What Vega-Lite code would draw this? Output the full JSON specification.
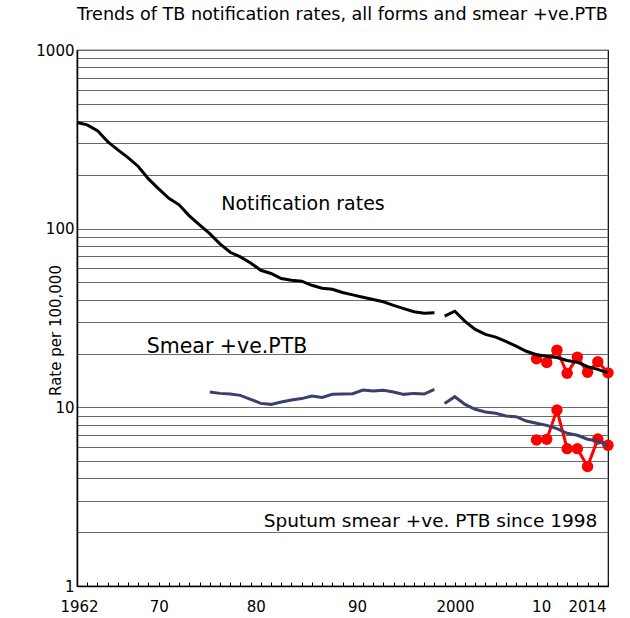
{
  "$schema": "https://vega.github.io/schema/vega-lite/v6.json",
  "width": 531,
  "height": 536,
  "autosize": {"type": "none"},
  "padding": {"left": 77, "top": 50, "right": 22, "bottom": 32},
  "background": "white",
  "config": {
    "font": "DejaVu Sans",
    "view": {"stroke": "#000", "strokeWidth": 1.2}
  },
  "title": {
    "text": "Trends of TB notification rates, all forms and smear +ve.PTB",
    "fontSize": 17.6,
    "fontWeight": "normal",
    "color": "#000",
    "anchor": "middle",
    "offset": 19
  },
  "datasets": {
    "series": [
      {"year": 1962, "value": 393, "series": "all_a"},
      {"year": 1963, "value": 381, "series": "all_a"},
      {"year": 1964, "value": 354, "series": "all_a"},
      {"year": 1965, "value": 307, "series": "all_a"},
      {"year": 1966, "value": 276, "series": "all_a"},
      {"year": 1967, "value": 250, "series": "all_a"},
      {"year": 1968, "value": 223, "series": "all_a"},
      {"year": 1969, "value": 190, "series": "all_a"},
      {"year": 1970, "value": 167, "series": "all_a"},
      {"year": 1971, "value": 148, "series": "all_a"},
      {"year": 1972, "value": 136, "series": "all_a"},
      {"year": 1973, "value": 118, "series": "all_a"},
      {"year": 1974, "value": 105, "series": "all_a"},
      {"year": 1975, "value": 93.8, "series": "all_a"},
      {"year": 1976, "value": 82.2, "series": "all_a"},
      {"year": 1977, "value": 73.8, "series": "all_a"},
      {"year": 1978, "value": 69.5, "series": "all_a"},
      {"year": 1979, "value": 64.3, "series": "all_a"},
      {"year": 1980, "value": 58.5, "series": "all_a"},
      {"year": 1981, "value": 56.1, "series": "all_a"},
      {"year": 1982, "value": 52.6, "series": "all_a"},
      {"year": 1983, "value": 51.4, "series": "all_a"},
      {"year": 1984, "value": 50.8, "series": "all_a"},
      {"year": 1985, "value": 48.2, "series": "all_a"},
      {"year": 1986, "value": 46.4, "series": "all_a"},
      {"year": 1987, "value": 45.8, "series": "all_a"},
      {"year": 1988, "value": 43.9, "series": "all_a"},
      {"year": 1989, "value": 42.6, "series": "all_a"},
      {"year": 1990, "value": 41.3, "series": "all_a"},
      {"year": 1991, "value": 40.1, "series": "all_a"},
      {"year": 1992, "value": 39.0, "series": "all_a"},
      {"year": 1993, "value": 37.2, "series": "all_a"},
      {"year": 1994, "value": 35.7, "series": "all_a"},
      {"year": 1995, "value": 34.3, "series": "all_a"},
      {"year": 1996, "value": 33.6, "series": "all_a"},
      {"year": 1997, "value": 33.8, "series": "all_a"},
      {"year": 1998, "value": 32.4, "series": "all_b"},
      {"year": 1999, "value": 34.5, "series": "all_b"},
      {"year": 2000, "value": 30.3, "series": "all_b"},
      {"year": 2001, "value": 27.3, "series": "all_b"},
      {"year": 2002, "value": 25.6, "series": "all_b"},
      {"year": 2003, "value": 24.7, "series": "all_b"},
      {"year": 2004, "value": 23.4, "series": "all_b"},
      {"year": 2005, "value": 22.0, "series": "all_b"},
      {"year": 2006, "value": 20.6, "series": "all_b"},
      {"year": 2007, "value": 19.7, "series": "all_b"},
      {"year": 2008, "value": 19.3, "series": "all_b"},
      {"year": 2009, "value": 19.0, "series": "all_b"},
      {"year": 2010, "value": 18.3, "series": "all_b"},
      {"year": 2011, "value": 17.9, "series": "all_b"},
      {"year": 2012, "value": 16.9, "series": "all_b"},
      {"year": 2013, "value": 16.3, "series": "all_b"},
      {"year": 2014, "value": 15.6, "series": "all_b"},
      {"year": 1975, "value": 12.18, "series": "smear_a"},
      {"year": 1976, "value": 11.97, "series": "smear_a"},
      {"year": 1977, "value": 11.86, "series": "smear_a"},
      {"year": 1978, "value": 11.67, "series": "smear_a"},
      {"year": 1979, "value": 11.09, "series": "smear_a"},
      {"year": 1980, "value": 10.52, "series": "smear_a"},
      {"year": 1981, "value": 10.39, "series": "smear_a"},
      {"year": 1982, "value": 10.71, "series": "smear_a"},
      {"year": 1983, "value": 10.99, "series": "smear_a"},
      {"year": 1984, "value": 11.19, "series": "smear_a"},
      {"year": 1985, "value": 11.57, "series": "smear_a"},
      {"year": 1986, "value": 11.37, "series": "smear_a"},
      {"year": 1987, "value": 11.82, "series": "smear_a"},
      {"year": 1988, "value": 11.86, "series": "smear_a"},
      {"year": 1989, "value": 11.93, "series": "smear_a"},
      {"year": 1990, "value": 12.49, "series": "smear_a"},
      {"year": 1991, "value": 12.33, "series": "smear_a"},
      {"year": 1992, "value": 12.45, "series": "smear_a"},
      {"year": 1993, "value": 12.18, "series": "smear_a"},
      {"year": 1994, "value": 11.82, "series": "smear_a"},
      {"year": 1995, "value": 11.97, "series": "smear_a"},
      {"year": 1996, "value": 11.86, "series": "smear_a"},
      {"year": 1997, "value": 12.61, "series": "smear_a"},
      {"year": 1998, "value": 10.5, "series": "smear_b"},
      {"year": 1999, "value": 11.47, "series": "smear_b"},
      {"year": 2000, "value": 10.39, "series": "smear_b"},
      {"year": 2001, "value": 9.75, "series": "smear_b"},
      {"year": 2002, "value": 9.41, "series": "smear_b"},
      {"year": 2003, "value": 9.26, "series": "smear_b"},
      {"year": 2004, "value": 8.94, "series": "smear_b"},
      {"year": 2005, "value": 8.87, "series": "smear_b"},
      {"year": 2006, "value": 8.38, "series": "smear_b"},
      {"year": 2007, "value": 8.14, "series": "smear_b"},
      {"year": 2008, "value": 7.93, "series": "smear_b"},
      {"year": 2009, "value": 7.6, "series": "smear_b"},
      {"year": 2010, "value": 7.16, "series": "smear_b"},
      {"year": 2011, "value": 6.98, "series": "smear_b"},
      {"year": 2012, "value": 6.63, "series": "smear_b"},
      {"year": 2013, "value": 6.48, "series": "smear_b"},
      {"year": 2014, "value": 6.08, "series": "smear_b"},
      {"year": 2007, "value": 18.7, "series": "all_red"},
      {"year": 2008, "value": 17.8, "series": "all_red"},
      {"year": 2009, "value": 20.9, "series": "all_red"},
      {"year": 2010, "value": 15.5, "series": "all_red"},
      {"year": 2011, "value": 19.1, "series": "all_red"},
      {"year": 2012, "value": 15.7, "series": "all_red"},
      {"year": 2013, "value": 18.0, "series": "all_red"},
      {"year": 2014, "value": 15.6, "series": "all_red"},
      {"year": 2007, "value": 6.57, "series": "smear_red"},
      {"year": 2008, "value": 6.62, "series": "smear_red"},
      {"year": 2009, "value": 9.66, "series": "smear_red"},
      {"year": 2010, "value": 5.87, "series": "smear_red"},
      {"year": 2011, "value": 5.87, "series": "smear_red"},
      {"year": 2012, "value": 4.66, "series": "smear_red"},
      {"year": 2013, "value": 6.65, "series": "smear_red"},
      {"year": 2014, "value": 6.14, "series": "smear_red"}
    ],
    "labels": [
      {"year": 1984.13, "value": 138, "label": "Notification rates"},
      {"year": 1976.69, "value": 21.9, "label": "Smear +ve.PTB"},
      {"year": 1996.62, "value": 2.31, "label": "Sputum smear +ve. PTB since 1998"}
    ]
  },
  "encoding": {
    "x": {
      "field": "year",
      "type": "quantitative",
      "scale": {"domain": [1962, 2014], "nice": false, "zero": false},
      "axis": {
        "title": null,
        "grid": false,
        "values": [1962,1963,1964,1965,1966,1967,1968,1969,1970,1971,1972,1973,1974,1975,1976,1977,1978,1979,1980,1981,1982,1983,1984,1985,1986,1987,1988,1989,1990,1991,1992,1993,1994,1995,1996,1997,1998,1999,2000,2001,2002,2003,2004,2005,2006,2007,2008,2009,2010,2011,2012,2013,2014],
        "labelExpr": "datum.value==1962?'1962':datum.value==1970?'70':datum.value==1980?'80':datum.value==1990?'90':datum.value==2000?'2000':datum.value==2010?'10':datum.value==2014?'2014':''",
        "labelFlush": false,
        "labelOverlap": false,
        "labelFontSize": 15,
        "labelColor": "#000",
        "labelPadding": 17,
        "labelOffset": {
          "condition": [
            {"test": "datum.value == 2010", "value": -26},
            {"test": "datum.value == 2014", "value": -21},
            {"test": "datum.value == 2000", "value": -10},
            {"test": "datum.value == 1990", "value": -6},
            {"test": "datum.value == 1980", "value": -5},
            {"test": "datum.value == 1962", "value": 2}
          ],
          "value": 0
        },
        "tickSize": -4,
        "tickColor": "#000",
        "tickWidth": 1,
        "domainColor": "#000",
        "domainWidth": 1.5
      }
    },
    "y": {
      "field": "value",
      "type": "quantitative",
      "scale": {"type": "log", "domain": [1, 1000], "nice": false},
      "axis": {
        "title": "Rate per 100,000",
        "titleFontSize": 15,
        "titleFontWeight": "normal",
        "titleColor": "#000",
        "titleX": -22,
        "titleY": 280,
        "titleBaseline": "middle",
        "titleAlign": "center",
        "titleAngle": -90,
        "values": [1,2,3,4,5,6,7,8,9,10,20,30,40,50,60,70,80,90,100,200,300,400,500,600,700,800,900,1000],
        "labelExpr": "(datum.value==1||datum.value==10||datum.value==100||datum.value==1000)?format(datum.value,'d'):''",
        "labelFontSize": 15,
        "labelColor": "#000",
        "labelPadding": 3,
        "labelOverlap": false,
        "tickSize": 0,
        "grid": true,
        "gridColor": "#6a6a6a",
        "gridWidth": 1.2,
        "domainColor": "#000",
        "domainWidth": 1.5
      }
    }
  },
  "layer": [
    {
      "data": {"name": "series"},
      "transform": [{"filter": {"field": "series", "oneOf": ["all_red", "smear_red"]}}],
      "mark": {"type": "line", "color": "#ff0000", "strokeWidth": 3, "point": {"filled": true, "size": 130, "color": "#ff0000", "opacity": 1}},
      "encoding": {"detail": {"field": "series"}}
    },
    {
      "data": {"name": "series"},
      "transform": [{"filter": {"field": "series", "oneOf": ["all_a", "all_b"]}}],
      "mark": {"type": "line", "color": "#000000", "strokeWidth": 3},
      "encoding": {"detail": {"field": "series"}}
    },
    {
      "data": {"name": "series"},
      "transform": [{"filter": {"field": "series", "oneOf": ["smear_a", "smear_b"]}}],
      "mark": {"type": "line", "color": "#3b3f6b", "strokeWidth": 3},
      "encoding": {"detail": {"field": "series"}}
    },
    {
      "data": {"name": "labels"},
      "transform": [{"filter": {"field": "label", "equal": "Notification rates"}}],
      "mark": {"type": "text", "color": "#000", "align": "center", "baseline": "middle", "fontSize": 19},
      "encoding": {"text": {"field": "label"}}
    },
    {
      "data": {"name": "labels"},
      "transform": [{"filter": {"field": "label", "equal": "Smear +ve.PTB"}}],
      "mark": {"type": "text", "color": "#000", "align": "center", "baseline": "middle", "fontSize": 20.5},
      "encoding": {"text": {"field": "label"}}
    },
    {
      "data": {"name": "labels"},
      "transform": [{"filter": {"field": "label", "equal": "Sputum smear +ve. PTB since 1998"}}],
      "mark": {"type": "text", "color": "#000", "align": "center", "baseline": "middle", "fontSize": 18.5},
      "encoding": {"text": {"field": "label"}}
    }
  ]
}
